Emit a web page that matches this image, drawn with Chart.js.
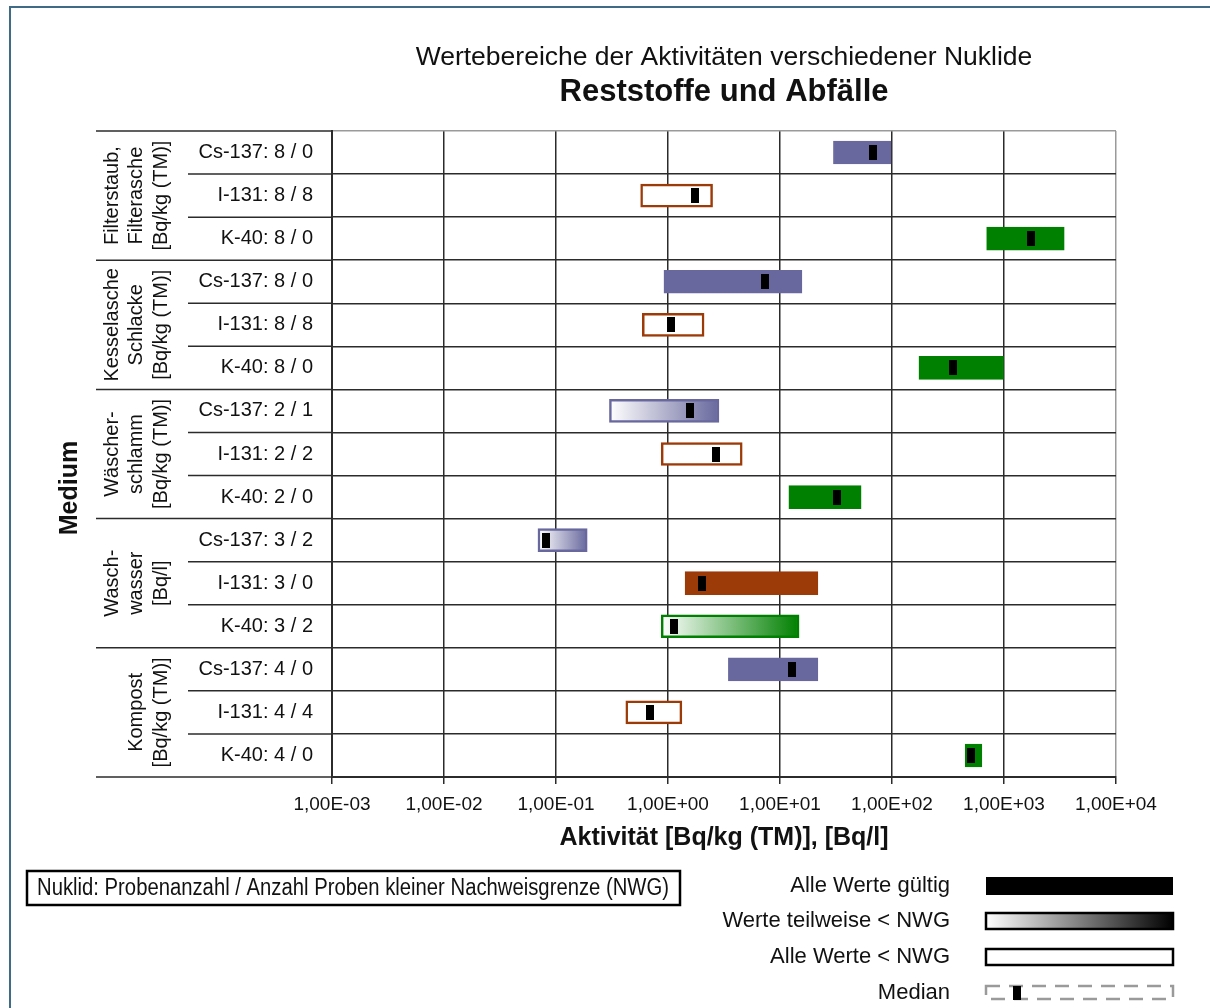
<!DOCTYPE html>
<html>
<head>
<meta charset="utf-8">
<script src="https://cdn.jsdelivr.net/npm/chart.js@4.4.1/dist/chart.umd.min.js"></script>
<style>
  html, body { margin: 0; padding: 0; background: #fff; }
  #wrap { position: relative; width: 1210px; height: 1008px; overflow: hidden; }
  #frame { position: absolute; left: 9px; top: 6px; width: 1400px; height: 1200px;
           border-left: 2px solid #3f6b87; border-top: 2px solid #3f6b87; }
  canvas { position: absolute; left: 0; top: 0; }
</style>
</head>
<body>
<div id="wrap">
  <div id="frame"></div>
  <canvas id="rangeChart" width="1210" height="1008"></canvas>
</div>
<script>
// Wertebereiche - Reststoffe und Abfälle
const nuclides = ['Cs-137', 'I-131', 'K-40', 'Cs-137', 'I-131', 'K-40', 'Cs-137', 'I-131', 'K-40',
                  'Cs-137', 'I-131', 'K-40', 'Cs-137', 'I-131', 'K-40'];
const sampleCounts = [8, 8, 8, 8, 8, 8, 2, 2, 2, 3, 3, 3, 4, 4, 4];
const belowLimitCounts = [0, 8, 0, 0, 8, 0, 1, 2, 0, 2, 0, 2, 0, 4, 0];
const minValues = [30, 0.57, 700, 0.92, 0.59, 174, 0.30, 0.87, 12, 0.069, 1.42, 0.87, 3.46, 0.42, 450];
const maxValues = [98, 2.5, 3450, 15.7, 2.1, 990, 2.85, 4.6, 53, 0.19, 21.8, 14.8, 21.8, 1.33, 635];
const medianValues = [68, 1.74, 1760, 7.3, 1.06, 351, 1.57, 2.7, 32, 0.081, 2.0, 1.12, 12.8, 0.69, 510];

const groupNames = [
  ['Filterstaub,', 'Filterasche', '[Bq/kg (TM)]'],
  ['Kesselasche', 'Schlacke', '[Bq/kg (TM)]'],
  ['Wäscher-', 'schlamm', '[Bq/kg (TM)]'],
  ['Wasch-', 'wasser', '[Bq/l]'],
  ['Kompost', '[Bq/kg (TM)]']
];
const groupSizes = [3, 3, 3, 3, 3];

const tickValues = [1e-3, 1e-2, 1e-1, 1e0, 1e1, 1e2, 1e3, 1e4];
const tickLabels = ['1,00E-03', '1,00E-02', '1,00E-01', '1,00E+00', '1,00E+01', '1,00E+02', '1,00E+03', '1,00E+04'];

const legendLabels = ['Alle Werte gültig', 'Werte teilweise < NWG', 'Alle Werte < NWG', 'Median'];
const noteText = 'Nuklid: Probenanzahl / Anzahl Proben kleiner Nachweisgrenze (NWG)';

const nuclideColors = { 'Cs-137': '#68689e', 'I-131': '#9c3a08', 'K-40': '#008000' };

const rowLabels = nuclides.map((n, i) => `${n}: ${sampleCounts[i]} / ${belowLimitCounts[i]}`);
const ranges = minValues.map((v, i) => [v, maxValues[i]]);

const FONT = "'Liberation Sans', Arial, sans-serif";
const NARROW = "'Liberation Sans Narrow', 'Arial Narrow', 'Liberation Sans', sans-serif";
Chart.defaults.font.family = FONT;
Chart.defaults.color = '#111';

function kindOf(i) {
  if (belowLimitCounts[i] === 0) return 'all';
  if (belowLimitCounts[i] === sampleCounts[i]) return 'none';
  return 'part';
}

function barFill(context) {
  const i = context.dataIndex;
  if (i === undefined) return '#fff';
  const col = nuclideColors[nuclides[i]];
  const kind = kindOf(i);
  if (kind === 'none') return '#ffffff';
  if (kind === 'all') return col;
  const chart = context.chart;
  const x = chart.scales.x;
  if (!chart.chartArea || !x) return col;
  const x0 = x.getPixelForValue(minValues[i]);
  const x1 = x.getPixelForValue(maxValues[i]);
  const g = chart.ctx.createLinearGradient(x0, 0, x1, 0);
  g.addColorStop(0, '#ffffff');
  g.addColorStop(1, col);
  return g;
}

// median marker
const medianMark = document.createElement('canvas');
medianMark.width = 8;
medianMark.height = 15;
medianMark.getContext('2d').fillRect(0, 0, 8, 15);

const sidePlugin = {
  id: 'sideLabels',
  afterDraw(chart) {
    const { ctx, chartArea, scales: { y } } = chart;
    const half = (y.getPixelForValue(1) - y.getPixelForValue(0)) / 2;
    ctx.save();

    // row / group separators to the left of the plot
    const groupStarts = [];
    let acc = 0;
    groupSizes.forEach(s => { groupStarts.push(acc); acc += s; });
    ctx.strokeStyle = '#2b2b2b';
    ctx.lineWidth = 1.5;
    for (let r = 0; r <= rowLabels.length; r++) {
      const yy = r < rowLabels.length ? y.getPixelForValue(r) - half : y.getPixelForValue(r - 1) + half;
      const edge = groupStarts.includes(r) || r === rowLabels.length;
      ctx.beginPath();
      ctx.moveTo(edge ? 96 : 188, yy);
      ctx.lineTo(chartArea.left, yy);
      ctx.stroke();
    }

    // group names (rotated)
    ctx.fillStyle = '#111';
    ctx.font = '20px ' + FONT;
    ctx.textAlign = 'center';
    ctx.textBaseline = 'middle';
    groupNames.forEach((lines, g) => {
      const first = groupStarts[g];
      const last = first + groupSizes[g] - 1;
      const cy = (y.getPixelForValue(first) + y.getPixelForValue(last)) / 2;
      lines.forEach((line, k) => {
        const cx = 161 - (lines.length - 1 - k) * 24.5;
        ctx.save();
        ctx.translate(cx, cy);
        ctx.rotate(-Math.PI / 2);
        ctx.fillText(line, 0, 0);
        ctx.restore();
      });
    });

    // axis title
    ctx.save();
    ctx.font = 'bold 25px ' + FONT;
    ctx.translate(70, 488);
    ctx.rotate(-Math.PI / 2);
    ctx.fillText('Medium', 0, 0);
    ctx.restore();

    // note box
    ctx.strokeStyle = '#000';
    ctx.lineWidth = 2.5;
    ctx.strokeRect(27, 871, 653, 34);
    ctx.font = '23px ' + NARROW;
    const w = ctx.measureText(noteText).width;
    ctx.save();
    ctx.translate(353, 889);
    if (w > 636) ctx.scale(632 / w, 1);
    ctx.fillText(noteText, 0, 0);
    ctx.restore();

    // legend
    ctx.font = '22px ' + FONT;
    ctx.textAlign = 'right';
    const ly = [886, 921, 957, 993];
    legendLabels.forEach((t, k) => ctx.fillText(t, 950, ly[k]));

    const lx = 986, lw = 187;
    ctx.fillStyle = '#000';
    ctx.fillRect(lx, 877, lw, 18);

    const grad = ctx.createLinearGradient(lx, 0, lx + lw, 0);
    grad.addColorStop(0, '#ffffff');
    grad.addColorStop(1, '#000000');
    ctx.fillStyle = grad;
    ctx.fillRect(lx, 913, lw, 16);
    ctx.strokeRect(lx, 913, lw, 16);

    ctx.fillStyle = '#fff';
    ctx.fillRect(lx, 949, lw, 16);
    ctx.strokeRect(lx, 949, lw, 16);

    ctx.setLineDash([14, 9]);
    ctx.strokeStyle = '#9a9a9a';
    ctx.strokeRect(lx, 986, lw, 13);
    ctx.setLineDash([]);
    ctx.fillStyle = '#000';
    ctx.fillRect(1013, 986, 8, 14);

    ctx.restore();
  }
};

new Chart(document.getElementById('rangeChart'), {
  type: 'bar',
  data: {
    labels: rowLabels,
    datasets: [
      {
        type: 'line',
        label: 'Median',
        data: medianValues,
        indexAxis: 'y',
        showLine: false,
        pointStyle: medianMark,
        pointRadius: 5,
        pointHoverRadius: 5,
        xAxisID: 'x',
        yAxisID: 'y',
        order: 1
      },
      {
        label: 'Wertebereich',
        data: ranges,
        backgroundColor: barFill,
        borderColor: ctx => nuclideColors[nuclides[ctx.dataIndex]] || '#000',
        borderWidth: ctx => kindOf(ctx.dataIndex) === 'all' ? 1 : 2.5,
        borderSkipped: false,
        barThickness: 23,
        xAxisID: 'x',
        yAxisID: 'y',
        order: 2
      }
    ]
  },
  options: {
    indexAxis: 'y',
    responsive: false,
    animation: false,
    layout: {
      padding: { left: 95, right: 94, top: 0, bottom: 155 }
    },
    plugins: {
      legend: { display: false },
      tooltip: { enabled: false },
      title: {
        display: true,
        fullSize: false,
        text: 'Wertebereiche der Aktivitäten verschiedener Nuklide',
        font: { size: 26.5, weight: 'normal' },
        color: '#111',
        padding: { top: 42, bottom: 0 }
      },
      subtitle: {
        display: true,
        fullSize: false,
        text: 'Reststoffe und Abfälle',
        font: { size: 31, weight: 'bold' },
        color: '#111',
        padding: { top: 0, bottom: 20 }
      }
    },
    scales: {
      x: {
        type: 'logarithmic',
        min: 1e-3,
        max: 1e4,
        afterBuildTicks: scale => { scale.ticks = tickValues.map(v => ({ value: v })); },
        afterFit: scale => { scale.height = 76; },
        ticks: {
          callback: (v, i) => tickLabels[i],
          font: { size: 19 },
          color: '#111',
          padding: 9,
          maxRotation: 0,
          autoSkip: false
        },
        grid: {
          color: c => c.index === tickValues.length - 1 ? '#9a9a9a' : '#2b2b2b',
          lineWidth: 1.5,
          tickLength: 7,
          tickColor: '#2b2b2b'
        },
        border: { color: '#2b2b2b', width: 2 },
        title: {
          display: true,
          text: 'Aktivität [Bq/kg (TM)], [Bq/l]',
          font: { size: 25, weight: 'bold' },
          color: '#111',
          padding: { top: 4, bottom: 0 }
        }
      },
      y: {
        afterFit: scale => { scale.width = 237; },
        ticks: { font: { size: 20 }, color: '#111', padding: 19, autoSkip: false },
        grid: {
          color: c => c.index === 0 ? '#9a9a9a' : '#2b2b2b',
          lineWidth: 1.5,
          drawTicks: false
        },
        border: { color: '#2b2b2b', width: 2 }
      }
    }
  },
  plugins: [sidePlugin]
});
</script>
</body>
</html>
